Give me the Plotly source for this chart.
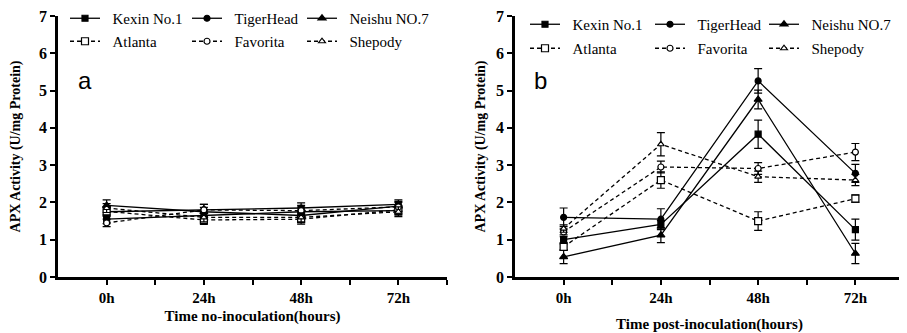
import plotly.graph_objects as go

times = ["0h", "24h", "48h", "72h"]
series = ["Kexin No.1", "TigerHead", "Neishu NO.7", "Atlanta", "Favorita", "Shepody"]

# Panel a: no inoculation
a_kexin = [1.55, 1.65, 1.75, 1.78]
a_tiger = [1.75, 1.80, 1.85, 1.95]
a_neishu = [1.92, 1.75, 1.65, 1.90]
a_atlanta = [1.76, 1.53, 1.55, 1.80]
a_favorita = [1.45, 1.80, 1.78, 1.88]
a_shepody = [1.85, 1.60, 1.60, 1.75]
a_err_kexin = [0.12, 0.12, 0.13, 0.12]
a_err_tiger = [0.12, 0.15, 0.14, 0.12]
a_err_neishu = [0.15, 0.12, 0.12, 0.13]
a_err_atlanta = [0.12, 0.12, 0.13, 0.12]
a_err_favorita = [0.10, 0.15, 0.14, 0.12]
a_err_shepody = [0.12, 0.12, 0.12, 0.13]

# Panel b: post-inoculation
b_kexin = [1.00, 1.41, 3.83, 1.27]
b_tiger = [1.60, 1.55, 5.26, 2.78]
b_neishu = [0.54, 1.12, 4.76, 0.63]
b_atlanta = [0.81, 2.60, 1.50, 2.10]
b_favorita = [1.21, 2.95, 2.91, 3.35]
b_shepody = [1.30, 3.56, 2.69, 2.60]
b_err_kexin = [0.08, 0.10, 0.38, 0.28]
b_err_tiger = [0.25, 0.28, 0.33, 0.24]
b_err_neishu = [0.18, 0.20, 0.25, 0.27]
b_err_atlanta = [0.08, 0.22, 0.25, 0.10]
b_err_favorita = [0.08, 0.16, 0.16, 0.23]
b_err_shepody = [0.10, 0.31, 0.15, 0.15]

panel_a = [a_kexin, a_tiger, a_neishu, a_atlanta, a_favorita, a_shepody]
panel_a_err = [a_err_kexin, a_err_tiger, a_err_neishu, a_err_atlanta, a_err_favorita, a_err_shepody]
panel_b = [b_kexin, b_tiger, b_neishu, b_atlanta, b_favorita, b_shepody]
panel_b_err = [b_err_kexin, b_err_tiger, b_err_neishu, b_err_atlanta, b_err_favorita, b_err_shepody]

symbols = ["square", "circle", "triangle-up", "square", "circle", "triangle-up"]
sizes = [6, 6, 7, 7, 6, 6]
filled = [True, True, True, False, False, False]

xidx = list(range(len(times)))
SERIF = "Liberation Serif, Times New Roman, serif"

# page body has an 8px margin, so lay out on 899x325
W, H = 899, 325
ml, mr, mt, mb = 50, 3, 8, 56
pw = W - ml - mr
ph = H - mt - mb

def lx(px):
    return (px - ml) / pw

def ly(px):
    return 1 - (px - mt) / ph

# legend cell positions (left, top) in figure pixels, per panel, row-major
leg_cols = [[57, 179, 294], [517, 642, 756]]
leg_rows = [[-6, 17], [0, 24]]

fig = go.Figure()
layout_legends = {}
lid = 0
for panel, (vals, errs, xa, ya) in enumerate([
    (panel_a, panel_a_err, "x", "y"),
    (panel_b, panel_b_err, "x2", "y2"),
]):
    for i, name in enumerate(series):
        lid += 1
        lname = "legend" if lid == 1 else f"legend{lid}"
        layout_legends[lname] = dict(
            orientation="h", xanchor="left", yanchor="top",
            x=lx(leg_cols[panel][i % 3]), y=ly(leg_rows[panel][i // 3]),
            font=dict(family=SERIF, size=15, color="black"),
            bgcolor="rgba(0,0,0,0)")
        fig.add_trace(go.Scatter(
            x=xidx, y=vals[i], name="\u00a0\u00a0" + name,
            xaxis=xa, yaxis=ya, legend=lname,
            mode="lines+markers",
            line=dict(color="black", width=1.3, dash="solid" if filled[i] else "4px,3px"),
            marker=dict(symbol=symbols[i], size=sizes[i],
                        color="black" if filled[i] else "white",
                        line=dict(color="black", width=1.2)),
            error_y=dict(type="data", array=errs[i], color="black", thickness=1.2, width=4),
        ))

axis_common = dict(
    showline=True, linecolor="black", linewidth=2.5, mirror=False,
    ticks="outside", ticklen=5, tickwidth=2, tickcolor="black",
    showgrid=False, zeroline=False, ticklabeloverflow="allow",
)
xcommon = dict(axis_common, tickmode="array", tickvals=xidx, ticktext=times,
               range=[-0.5, 3.5],
               tickfont=dict(family=SERIF, size=15, color="black", weight="bold"),
               minor=dict(tickvals=[0.5, 1.5, 2.5, 3.5], ticklen=5, tickwidth=2,
                          tickcolor="black", ticks="outside"))
ytitle_font = dict(family=SERIF, size=14, color="black", weight="bold")
ycommon = dict(axis_common, range=[0, 7], dtick=1,
               tickfont=dict(family=SERIF, size=16, color="black", weight="bold"))
xtitle_font = dict(family=SERIF, size=15, color="black", weight="bold")

fig.update_layout(
    width=W, height=H,
    margin=dict(l=ml, r=mr, t=mt, b=mb, autoexpand=False),
    paper_bgcolor="white", plot_bgcolor="white",
    xaxis=dict(xcommon, domain=[0, 389 / pw], anchor="y",
               title=dict(text="Time no-inoculation(hours)", font=xtitle_font, standoff=6)),
    yaxis=dict(ycommon, domain=[0, 1], anchor="x",
               title=dict(text="APX Activity (U/mg Protein)", font=ytitle_font, standoff=28)),
    xaxis2=dict(xcommon, domain=[(507 - ml) / pw, 1], anchor="y2",
                title=dict(text="Time post-inoculation(hours)", font=xtitle_font, standoff=15)),
    yaxis2=dict(ycommon, domain=[0, 1], anchor="x2",
                title=dict(text="APX Activity (U/mg Protein)", font=ytitle_font, standoff=8)),
    showlegend=True,
    annotations=[
        dict(text="a", x=-0.22, y=5.28, xref="x", yref="y", showarrow=False,
             font=dict(family="Liberation Sans", size=24, color="black"), xanchor="center"),
        dict(text="b", x=-0.24, y=5.28, xref="x2", yref="y2", showarrow=False,
             font=dict(family="Liberation Sans", size=24, color="black"), xanchor="center"),
    ],
)
fig.update_layout(**layout_legends)

fig.write_html("out.html")
